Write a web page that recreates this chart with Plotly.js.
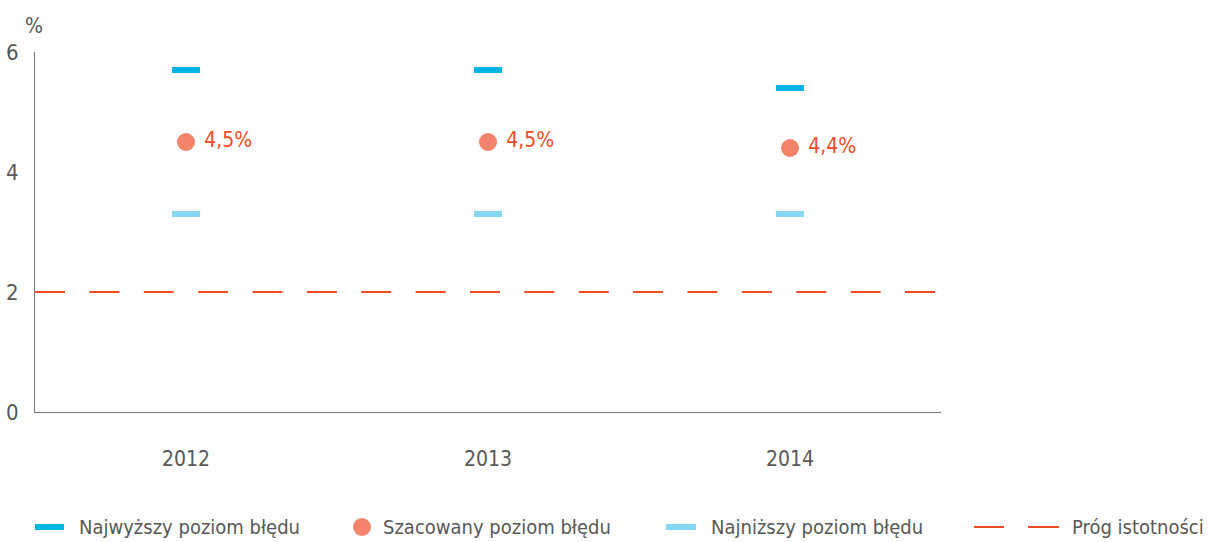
<!DOCTYPE html>
<html>
<head>
<meta charset="utf-8">
<script src="https://cdn.plot.ly/plotly-3.0.1.min.js"></script>
<style>html,body{margin:0;padding:0;background:#fff;}#chart{width:1208px;height:542px;}</style>
</head>
<body>
<div id="chart"></div>
<script>
const years = ['2012', '2013', '2014'];
const highest = [5.7, 5.7, 5.4];
const estimated = [4.5, 4.5, 4.4];
const lowest = [3.3, 3.3, 3.3];
const threshold = 2;
const labels = ['4,5%', '4,5%', '4,4%'];
const seriesNames = ['Najwyższy poziom błędu', 'Szacowany poziom błędu', 'Najniższy poziom błędu', 'Próg istotności'];
const yTicks = [0, 2, 4, 6];

const FONT = '"DejaVu Sans Condensed", "Liberation Sans Narrow", sans-serif';
const cHigh = '#00b4e3';
const cLow = '#84d8f1';
const cDot = '#f4836b';
const cRed = '#ef4b24';
const cText = '#585858';

const xIdx = years.map((_, i) => i);

const traces = [
  {
    x: xIdx, y: highest, type: 'scatter', mode: 'markers', name: seriesNames[0],
    marker: {symbol: 'line-ew', size: 20, color: cHigh, line: {color: cHigh, width: 6}},
    showlegend: false, hoverinfo: 'y'
  },
  {
    x: xIdx, y: lowest, type: 'scatter', mode: 'markers', name: seriesNames[2],
    marker: {symbol: 'line-ew', size: 20, color: cLow, line: {color: cLow, width: 6}},
    showlegend: false, hoverinfo: 'y'
  },
  {
    x: xIdx, y: estimated, type: 'scatter', mode: 'markers+text', name: seriesNames[1],
    marker: {symbol: 'circle', size: 18, color: cDot},
    text: labels, texttemplate: ' %{text}', textposition: 'middle right',
    textfont: {family: FONT, size: 21, color: cRed},
    showlegend: false, hoverinfo: 'y'
  }
];

// Legend drawn in paper coordinates
const px = v => (v - 35) / 906;
const py = v => (412 - v) / 360;
const legY = py(527);
const shapes = [
  {type: 'line', xref: 'paper', yref: 'y', x0: 0, x1: 1, y0: threshold, y1: threshold,
   line: {color: cRed, width: 2, dash: '30px,24.375px'}},
  {type: 'line', xref: 'paper', yref: 'paper', x0: px(35), x1: px(64), y0: legY, y1: legY, line: {color: cHigh, width: 6}},
  {type: 'circle', xref: 'paper', yref: 'paper', x0: px(353), x1: px(371), y0: legY - 9/360, y1: legY + 9/360,
   fillcolor: cDot, line: {width: 0}},
  {type: 'line', xref: 'paper', yref: 'paper', x0: px(666), x1: px(696), y0: legY, y1: legY, line: {color: cLow, width: 6}},
  {type: 'line', xref: 'paper', yref: 'paper', x0: px(974), x1: px(1004), y0: legY, y1: legY, line: {color: cRed, width: 2}},
  {type: 'line', xref: 'paper', yref: 'paper', x0: px(1028), x1: px(1059), y0: legY, y1: legY, line: {color: cRed, width: 2}}
];
const legTextX = [77, 381, 709, 1070];
const annotations = seriesNames.map((n, i) => ({
  text: n, xref: 'paper', yref: 'paper', x: px(legTextX[i]), y: legY, xanchor: 'left', yanchor: 'middle',
  showarrow: false, font: {family: FONT, size: 20, color: cText}
}));
annotations.push({text: '%', xref: 'paper', yref: 'paper', x: px(34), y: py(26), xanchor: 'center', yanchor: 'middle',
  showarrow: false, font: {family: FONT, size: 21, color: cText}});

const layout = {
  width: 1208, height: 542,
  margin: {l: 35, r: 267, t: 52, b: 130},
  paper_bgcolor: '#fff', plot_bgcolor: '#fff',
  showlegend: false,
  font: {family: FONT, size: 21, color: cText},
  xaxis: {
    range: [-0.5, years.length - 0.5], tickvals: xIdx, ticktext: years,
    showgrid: false, zeroline: false, showline: true, linecolor: '#777', linewidth: 1,
    ticks: '', ticklabelstandoff: 28, tickfont: {family: FONT, size: 21, color: cText}, fixedrange: true
  },
  yaxis: {
    range: [0, 6], tickvals: yTicks, ticktext: yTicks.map(String),
    showgrid: false, zeroline: false, showline: true, linecolor: '#777', linewidth: 1,
    ticks: '', ticklabelstandoff: 11, tickfont: {family: FONT, size: 22, color: cText}, fixedrange: true
  },
  shapes: shapes,
  annotations: annotations
};

Plotly.newPlot('chart', traces, layout, {displayModeBar: false, staticPlot: true});
</script>
</body>
</html>
